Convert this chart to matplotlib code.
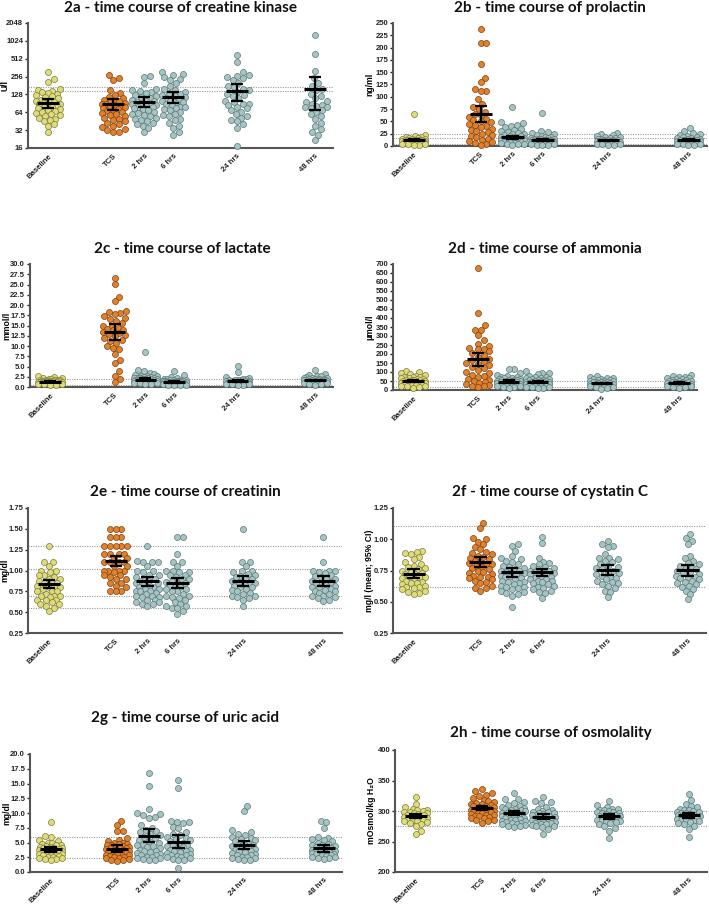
"""Time course panels 2a-2h: scatter (swarm) with mean and 95% CI per sampling time."""

import matplotlib

matplotlib.use("Agg")
import matplotlib.pyplot as plt
import numpy as np
from matplotlib.ticker import FixedLocator, FuncFormatter

plt.rcParams["font.family"] = ["Liberation Sans", "DejaVu Sans"]

GROUPS = ["Baseline", "TCS", "2 hrs", "6 hrs", "24 hrs", "48 hrs"]
GROUP_POS = [0, 2.17, 3.2, 4.17, 6.3, 8.9]

# 2a creatine kinase (U/l)
CK = [
    [300, 235, 205, 160, 150, 145, 140, 135, 130, 125, 120, 115, 110, 105, 100, 98, 95, 92, 90, 88,
     85, 82, 80, 78, 75, 72, 70, 68, 65, 62, 60, 58, 55, 52, 50, 48, 45, 40, 38, 30],
    [270, 245, 225, 150, 135, 125, 115, 110, 105, 100, 98, 95, 92, 90, 88, 85, 82, 80, 78, 75,
     72, 70, 68, 65, 62, 60, 58, 55, 52, 50, 48, 45, 42, 40, 38, 36, 34, 32, 30, 30],
    [260, 250, 200, 160, 150, 145, 140, 135, 125, 120, 115, 110, 105, 100, 98, 95, 92, 90, 88, 85,
     82, 80, 78, 75, 72, 70, 65, 62, 60, 58, 55, 52, 50, 48, 45, 42, 40, 38, 35, 30],
    [300, 285, 270, 250, 235, 220, 200, 175, 160, 150, 140, 135, 130, 125, 120, 115, 110, 105, 100, 98,
     95, 92, 90, 85, 80, 78, 75, 72, 70, 65, 60, 58, 55, 50, 48, 42, 38, 35, 30, 26],
    [600, 450, 300, 270, 260, 250, 240, 220, 200, 180, 170, 160, 150, 140, 130, 125, 120, 110, 100, 95,
     90, 88, 85, 80, 75, 70, 65, 60, 55, 52, 48, 45, 40, 35, 17],
    [1300, 620, 320, 240, 200, 180, 160, 150, 130, 120, 110, 100, 95, 90, 85, 82, 80, 78, 75, 70,
     65, 60, 55, 50, 42, 37, 33, 30, 27, 22],
]
CK_MEAN = [93, 88, 96, 117, 146, 161]
CK_LO = [75, 70, 78, 92, 101, 69]
CK_HI = [107, 106, 115, 143, 193, 254]
CK_REF = [171, 145]

# 2b prolactin (ng/ml)
PRL = [
    [65, 23, 20, 19, 18, 17, 16, 15, 14, 14, 13, 13, 12, 12, 12, 11, 11, 11, 10, 10,
     10, 10, 9, 9, 9, 9, 8, 8, 8, 8, 7, 7, 7, 6, 6, 5, 5, 4, 3, 2],
    [238, 210, 210, 167, 138, 130, 116, 112, 111, 95, 86, 80, 75, 70, 65, 62, 58, 55, 52, 50,
     48, 45, 42, 40, 38, 35, 32, 30, 28, 25, 22, 20, 18, 15, 12, 10, 8, 6, 5, 3],
    [80, 48, 47, 42, 40, 38, 35, 32, 30, 28, 26, 25, 24, 22, 21, 20, 19, 18, 17, 16,
     16, 15, 15, 14, 14, 13, 12, 12, 11, 10, 10, 9, 8, 8, 7, 6, 5, 5, 4, 3],
    [67, 30, 28, 26, 24, 22, 20, 19, 18, 17, 16, 15, 15, 14, 14, 13, 13, 12, 12, 12,
     11, 11, 10, 10, 10, 9, 9, 8, 8, 7, 7, 6, 6, 5, 5, 4, 4, 3, 3, 2],
    [26, 25, 22, 20, 19, 18, 17, 16, 15, 14, 13, 13, 12, 12, 11, 11, 10, 10, 10, 9,
     9, 8, 8, 7, 7, 6, 6, 5, 5, 4, 3, 2],
    [37, 30, 26, 24, 22, 20, 19, 18, 17, 16, 15, 14, 13, 13, 12, 12, 11, 11, 10, 10,
     9, 9, 8, 8, 7, 7, 6, 5, 5, 4, 3, 2],
]
PRL_MEAN = [12, 65, 18, 13, 11.5, 12.5]
PRL_LO = [10, 49, 15, 11, 10, 10.5]
PRL_HI = [14, 81, 21, 15, 13, 14.5]
PRL_REF = [25, 17, 3.5]

# 2c lactate (mmol/l)
LAC = [
    [2.6, 2.5, 2.3, 2.2, 2.0, 1.9, 1.8, 1.7, 1.7, 1.6, 1.6, 1.5, 1.5, 1.5, 1.4, 1.4, 1.4, 1.3, 1.3, 1.3,
     1.2, 1.2, 1.2, 1.1, 1.1, 1.1, 1.0, 1.0, 1.0, 0.9, 0.9, 0.9, 0.8, 0.8, 0.7, 0.7, 0.6, 0.5],
    [26.6, 25.2, 22.0, 20.9, 18.5, 18.3, 18.1, 17.8, 17.2, 16.8, 16.5, 16.0, 15.5, 15.0, 14.8, 14.5,
     14.2, 14.0, 13.8, 13.5, 13.2, 13.0, 12.8, 12.5, 12.0, 11.5, 11.3, 10.8, 10.0, 9.5, 9.2, 8.0,
     6.6, 5.9, 3.8, 2.8, 2.0, 1.1],
    [8.5, 4.2, 3.9, 3.5, 3.2, 3.0, 2.8, 2.7, 2.6, 2.5, 2.4, 2.3, 2.2, 2.2, 2.1, 2.1, 2.0, 2.0, 1.9, 1.9,
     1.8, 1.8, 1.7, 1.7, 1.6, 1.6, 1.5, 1.5, 1.4, 1.4, 1.3, 1.3, 1.2, 1.2, 1.1, 1.0, 1.0, 0.9, 0.8, 0.7],
    [3.9, 3.0, 2.5, 2.2, 2.0, 1.9, 1.8, 1.7, 1.6, 1.6, 1.5, 1.5, 1.4, 1.4, 1.4, 1.3, 1.3, 1.3, 1.2, 1.2,
     1.2, 1.1, 1.1, 1.1, 1.0, 1.0, 1.0, 0.9, 0.9, 0.9, 0.8, 0.8, 0.7, 0.7, 0.6, 0.6, 0.5, 0.5],
    [5.2, 3.6, 2.5, 2.2, 2.0, 1.9, 1.8, 1.7, 1.6, 1.6, 1.5, 1.5, 1.4, 1.4, 1.3, 1.3, 1.3, 1.2, 1.2, 1.2,
     1.1, 1.1, 1.0, 1.0, 1.0, 0.9, 0.9, 0.8, 0.8, 0.7, 0.6, 0.5],
    [4.2, 3.1, 2.9, 2.8, 2.6, 2.5, 2.3, 2.2, 2.1, 2.0, 2.0, 1.9, 1.9, 1.8, 1.8, 1.7, 1.7, 1.6, 1.6, 1.5,
     1.5, 1.4, 1.4, 1.3, 1.3, 1.2, 1.1, 1.0, 0.9, 0.8, 0.7, 0.6],
]
LAC_MEAN = [1.25, 13.5, 1.8, 1.25, 1.5, 1.6]
LAC_LO = [1.1, 11.4, 1.6, 1.05, 1.25, 1.4]
LAC_HI = [1.4, 15.4, 2.1, 1.45, 1.75, 1.8]
LAC_REF = [1.9, 0.5]

# 2d ammonia (umol/l)
NH3 = [
    [105, 100, 92, 88, 82, 78, 75, 72, 70, 68, 65, 62, 60, 58, 56, 55, 53, 52, 50, 48,
     47, 45, 44, 42, 40, 38, 37, 35, 33, 32, 30, 28, 26, 24, 22, 20, 15, 10],
    [675, 430, 360, 335, 335, 305, 278, 258, 245, 235, 230, 225, 215, 205, 195, 185, 175, 165, 160, 150,
     145, 140, 130, 120, 110, 100, 95, 85, 80, 70, 60, 55, 50, 45, 40, 35, 30, 25, 20, 15],
    [115, 115, 95, 85, 80, 75, 70, 68, 65, 62, 60, 58, 56, 55, 53, 52, 50, 50, 48, 47,
     46, 45, 44, 42, 40, 40, 38, 36, 35, 33, 32, 30, 28, 26, 24, 22, 20, 18, 15, 10],
    [105, 95, 92, 88, 80, 75, 70, 68, 65, 62, 60, 58, 55, 53, 52, 50, 48, 47, 46, 45,
     44, 42, 40, 40, 38, 36, 35, 34, 32, 30, 28, 26, 24, 22, 20, 18, 16, 14, 12, 10],
    [80, 72, 68, 65, 62, 60, 58, 55, 52, 50, 48, 46, 45, 44, 42, 40, 39, 38, 36, 35,
     34, 32, 30, 28, 27, 25, 23, 20, 18, 15, 12, 8],
    [82, 80, 75, 70, 68, 65, 62, 60, 58, 55, 52, 50, 48, 46, 45, 44, 42, 40, 40, 38,
     36, 35, 34, 32, 30, 28, 26, 24, 22, 18, 15, 10],
]
NH3_MEAN = [48, 170, 46, 43, 37, 39]
NH3_LO = [42, 135, 40, 37, 33, 35]
NH3_HI = [55, 205, 53, 49, 41, 44]
NH3_REF = [52, 17]

# 2e creatinin (mg/dl)
CREA = [
    [1.30, 1.10, 1.10, 1.05, 1.00, 1.00, 0.98, 0.95, 0.95, 0.92, 0.90, 0.90, 0.88, 0.85, 0.85, 0.85,
     0.82, 0.80, 0.80, 0.80, 0.78, 0.75, 0.75, 0.75, 0.72, 0.70, 0.70, 0.70, 0.68, 0.65, 0.65, 0.65,
     0.62, 0.60, 0.60, 0.58, 0.55, 0.52],
    [1.50, 1.50, 1.50, 1.40, 1.40, 1.40, 1.30, 1.30, 1.30, 1.30, 1.30, 1.20, 1.20, 1.20, 1.20, 1.15,
     1.15, 1.10, 1.10, 1.10, 1.10, 1.05, 1.05, 1.00, 1.00, 1.00, 1.00, 0.98, 0.95, 0.95, 0.92, 0.90,
     0.90, 0.85, 0.85, 0.82, 0.80, 0.75, 0.75, 0.75],
    [1.30, 1.12, 1.10, 1.10, 1.10, 1.05, 1.00, 1.00, 0.98, 0.95, 0.95, 0.92, 0.90, 0.90, 0.88, 0.87,
     0.85, 0.85, 0.83, 0.80, 0.80, 0.80, 0.78, 0.78, 0.76, 0.75, 0.75, 0.73, 0.72, 0.70, 0.70, 0.68,
     0.68, 0.65, 0.65, 0.62, 0.62, 0.60, 0.60, 0.58],
    [1.40, 1.40, 1.20, 1.10, 1.10, 1.05, 1.00, 1.00, 0.98, 0.98, 0.95, 0.95, 0.92, 0.90, 0.90, 0.88,
     0.86, 0.85, 0.85, 0.82, 0.80, 0.80, 0.78, 0.78, 0.75, 0.75, 0.72, 0.70, 0.70, 0.68, 0.67, 0.65,
     0.62, 0.60, 0.58, 0.58, 0.55, 0.55, 0.52, 0.48],
    [1.50, 1.10, 1.10, 1.05, 1.00, 1.00, 0.98, 0.96, 0.95, 0.93, 0.92, 0.90, 0.90, 0.88, 0.86, 0.85,
     0.85, 0.83, 0.82, 0.80, 0.80, 0.78, 0.77, 0.75, 0.73, 0.72, 0.70, 0.70, 0.68, 0.67, 0.65, 0.58],
    [1.40, 1.10, 1.00, 1.00, 1.00, 0.98, 0.97, 0.95, 0.93, 0.92, 0.90, 0.90, 0.88, 0.86, 0.85, 0.85,
     0.83, 0.82, 0.80, 0.80, 0.78, 0.77, 0.75, 0.75, 0.73, 0.72, 0.70, 0.70, 0.68, 0.67, 0.65, 0.63],
]
CREA_MEAN = [0.84, 1.12, 0.87, 0.85, 0.87, 0.87]
CREA_LO = [0.79, 1.05, 0.81, 0.79, 0.81, 0.81]
CREA_HI = [0.89, 1.17, 0.92, 0.91, 0.93, 0.93]
CREA_REF = [1.30, 1.02, 0.70, 0.55]

# 2f cystatin C (mg/l)
CYS = [
    [0.91, 0.90, 0.89, 0.88, 0.86, 0.84, 0.82, 0.80, 0.79, 0.78, 0.77, 0.76, 0.75, 0.74, 0.73, 0.72,
     0.72, 0.71, 0.70, 0.70, 0.69, 0.68, 0.67, 0.66, 0.65, 0.65, 0.64, 0.63, 0.62, 0.62, 0.61, 0.60,
     0.59, 0.58, 0.57, 0.56],
    [1.13, 1.09, 1.01, 1.00, 0.98, 0.96, 0.94, 0.92, 0.90, 0.89, 0.88, 0.87, 0.86, 0.85, 0.84, 0.83,
     0.82, 0.81, 0.80, 0.80, 0.79, 0.78, 0.77, 0.76, 0.75, 0.74, 0.73, 0.72, 0.71, 0.70, 0.70, 0.69,
     0.68, 0.67, 0.66, 0.65, 0.63, 0.61, 0.61, 0.59],
    [0.96, 0.95, 0.91, 0.87, 0.85, 0.84, 0.83, 0.82, 0.80, 0.79, 0.78, 0.77, 0.76, 0.75, 0.75, 0.74,
     0.73, 0.73, 0.72, 0.71, 0.70, 0.70, 0.69, 0.68, 0.67, 0.66, 0.66, 0.65, 0.64, 0.63, 0.62, 0.62,
     0.61, 0.60, 0.59, 0.58, 0.57, 0.56, 0.55, 0.46],
    [1.02, 0.97, 0.85, 0.82, 0.81, 0.80, 0.79, 0.78, 0.77, 0.76, 0.75, 0.75, 0.74, 0.74, 0.73, 0.72,
     0.72, 0.71, 0.70, 0.70, 0.69, 0.68, 0.68, 0.67, 0.67, 0.66, 0.65, 0.64, 0.63, 0.62, 0.61, 0.60,
     0.59, 0.58, 0.57, 0.53],
    [0.99, 0.96, 0.95, 0.94, 0.88, 0.85, 0.85, 0.84, 0.83, 0.82, 0.80, 0.79, 0.78, 0.77, 0.76, 0.75,
     0.74, 0.73, 0.72, 0.71, 0.70, 0.69, 0.68, 0.67, 0.66, 0.65, 0.64, 0.63, 0.61, 0.59, 0.58, 0.54],
    [1.04, 1.01, 0.99, 0.96, 0.87, 0.85, 0.83, 0.81, 0.80, 0.79, 0.78, 0.77, 0.76, 0.75, 0.74, 0.73,
     0.72, 0.71, 0.70, 0.70, 0.69, 0.68, 0.67, 0.66, 0.65, 0.64, 0.63, 0.62, 0.60, 0.59, 0.56, 0.52],
]
CYS_MEAN = [0.725, 0.82, 0.735, 0.735, 0.757, 0.754]
CYS_LO = [0.693, 0.778, 0.698, 0.703, 0.717, 0.706]
CYS_HI = [0.76, 0.858, 0.773, 0.765, 0.797, 0.797]
CYS_REF = [1.11, 0.62]

# 2g uric acid (mg/dl)
URIC = [
    [8.4, 6.1, 6.0, 5.5, 5.2, 5.0, 4.9, 4.8, 4.6, 4.5, 4.4, 4.3, 4.2, 4.1, 4.0, 4.0, 3.9, 3.8, 3.7, 3.6,
     3.5, 3.5, 3.4, 3.3, 3.2, 3.1, 3.0, 3.0, 2.9, 2.8, 2.7, 2.6, 2.5, 2.4, 2.3, 2.2, 2.2, 2.1],
    [8.7, 7.9, 6.9, 6.9, 5.8, 5.5, 5.2, 5.0, 4.9, 4.8, 4.7, 4.6, 4.5, 4.4, 4.3, 4.2, 4.1, 4.0, 4.0, 3.9,
     3.8, 3.7, 3.6, 3.5, 3.4, 3.3, 3.2, 3.1, 3.0, 2.9, 2.8, 2.7, 2.6, 2.5, 2.4, 2.3, 2.2, 2.1, 2.0, 1.8],
    [16.7, 14.6, 10.6, 10.0, 9.8, 9.6, 9.4, 9.2, 8.0, 7.5, 7.2, 7.0, 6.8, 6.5, 6.2, 6.0, 5.8, 5.5, 5.3,
     5.0, 4.8, 4.6, 4.4, 4.2, 4.0, 3.8, 3.6, 3.5, 3.4, 3.2, 3.0, 2.9, 2.8, 2.6, 2.5, 2.4, 2.3, 2.2, 2.1, 2.0],
    [15.6, 14.3, 8.6, 8.5, 8.4, 8.3, 7.6, 7.5, 6.8, 6.5, 6.3, 6.0, 5.8, 5.6, 5.4, 5.2, 5.0, 4.8, 4.6,
     4.5, 4.4, 4.2, 4.0, 3.8, 3.7, 3.6, 3.5, 3.4, 3.2, 3.0, 2.9, 2.8, 2.7, 2.6, 2.5, 2.4, 2.2, 2.1, 2.0, 0.7],
    [11.2, 10.3, 7.1, 6.8, 6.5, 6.3, 6.0, 5.8, 5.6, 5.4, 5.2, 5.0, 4.8, 4.6, 4.5, 4.4, 4.2, 4.0, 3.9,
     3.8, 3.6, 3.5, 3.4, 3.2, 3.0, 2.9, 2.8, 2.6, 2.5, 2.4, 2.3, 2.2, 2.1, 2.0],
    [8.7, 8.4, 7.5, 6.0, 5.8, 5.6, 5.4, 5.2, 5.0, 4.8, 4.6, 4.5, 4.4, 4.2, 4.0, 3.9, 3.8, 3.7, 3.6,
     3.5, 3.4, 3.3, 3.2, 3.1, 3.0, 3.0, 2.9, 2.8, 2.7, 2.6, 2.5, 2.4, 2.3, 2.2],
]
URIC_MEAN = [3.84, 3.96, 6.18, 5.13, 4.57, 4.01]
URIC_LO = [3.34, 3.34, 5.07, 4.12, 3.9, 3.45]
URIC_HI = [4.29, 4.57, 7.3, 6.24, 5.24, 4.57]
URIC_REF = [5.9, 2.45]

# 2h osmolality (mOsmol/kg H2O)
OSM = [
    [323, 312, 307, 303, 302, 301, 300, 299, 298, 297, 296, 295, 294, 293, 292, 291, 290, 289, 288, 287,
     286, 285, 284, 283, 282, 280, 278, 275, 267, 263],
    [336, 332, 329, 327, 325, 322, 318, 316, 314, 313, 312, 311, 310, 309, 308, 307, 306, 305, 304, 303,
     302, 301, 300, 300, 299, 298, 297, 296, 295, 294, 293, 292, 291, 290, 289, 288, 286, 285, 283, 280],
    [329, 320, 319, 315, 313, 310, 308, 306, 305, 304, 303, 302, 301, 300, 299, 298, 297, 296, 295, 294,
     293, 292, 291, 290, 289, 288, 287, 286, 285, 284, 283, 282, 281, 280, 279, 278, 277, 276, 275, 274],
    [323, 317, 314, 313, 307, 304, 302, 300, 299, 298, 297, 296, 295, 294, 293, 292, 291, 290, 289, 288,
     287, 286, 285, 284, 283, 282, 281, 280, 279, 278, 277, 276, 275, 273, 270, 262],
    [317, 310, 306, 304, 303, 302, 301, 300, 299, 298, 297, 296, 295, 294, 293, 292, 291, 290, 289, 288,
     287, 286, 285, 284, 283, 282, 280, 278, 276, 272, 268, 255],
    [328, 318, 312, 308, 306, 304, 302, 301, 300, 299, 298, 297, 296, 295, 294, 293, 292, 291, 290, 289,
     288, 287, 286, 285, 284, 283, 282, 280, 278, 275, 270, 258],
]
OSM_MEAN = [291.9, 304.8, 296.8, 290.3, 291.4, 293]
OSM_LO = [288, 301.6, 293, 287, 287.6, 289.2]
OSM_HI = [295.7, 308.6, 300.5, 294.6, 295, 297.3]
OSM_REF = [300, 275]

FILL = ["#dedc7a", "#e0812e", "#a6c4c4", "#a6c4c4", "#a6c4c4", "#a6c4c4"]
EDGE = ["#7d7b3c", "#7a4212", "#5b7777", "#5b7777", "#5b7777", "#5b7777"]

W, H = 709, 906


def swarm_x(ax, xpos, vals, d=5.8, half=12.5):
    """Spread points sideways (max +-half px); overlap is allowed once the band is full."""
    pts = ax.transData.transform(np.column_stack([np.full(len(vals), xpos), vals]))
    ypix = pts[:, 1]
    offs = np.zeros(len(vals))
    px, py = [], []
    step = d * 0.25
    cands = [0.0]
    k = 1
    while k * step <= half:
        cands += [k * step, -k * step]
        k += 1
    for i in np.argsort(ypix):
        best, best_gap = 0.0, -1.0
        for c in cands:
            gap = np.min((c - np.array(px)) ** 2 + (ypix[i] - np.array(py)) ** 2) if px else np.inf
            if gap >= d * d * 0.97:
                best = c
                break
            if gap > best_gap:
                best_gap, best = gap, c
        offs[i] = best
        px.append(best)
        py.append(ypix[i])
    pts[:, 0] += offs
    return ax.transData.inverted().transform(pts)[:, 0]


def panel(fig, rect, title, title_xy, ylabel, data, mean, lo, hi, refs, ylim, yticks, fmt, log=False):
    left, top, right, bottom = rect
    ax = fig.add_axes([left / W, 1 - bottom / H, (right - left) / W, (bottom - top) / H])
    if log:
        ax.set_yscale("log", base=2)
    ax.set_xlim(-0.67, 9.5)
    ax.set_ylim(*ylim)
    for r in refs:
        ax.axhline(r, color="#9a9a9a", lw=0.8, ls=(0, (1, 1.2)), zorder=1)
    for g, vals in enumerate(data):
        xs = swarm_x(ax, GROUP_POS[g], vals)
        ax.scatter(xs, vals, s=19, c=FILL[g], edgecolors=EDGE[g], linewidths=0.5, zorder=3, clip_on=False)
    pos = np.array(GROUP_POS)
    ax.hlines(mean, pos - 0.36, pos + 0.36, color="black", lw=2.2, zorder=5)
    ax.hlines(lo, pos - 0.2, pos + 0.2, color="black", lw=1.6, zorder=5)
    ax.hlines(hi, pos - 0.2, pos + 0.2, color="black", lw=1.6, zorder=5)
    ax.vlines(pos, lo, hi, color="black", lw=1.6, zorder=5)

    ax.yaxis.set_major_locator(FixedLocator(yticks))
    ax.yaxis.set_minor_locator(FixedLocator([]))
    ax.yaxis.set_major_formatter(FuncFormatter(lambda v, p: fmt.format(v)))
    ax.set_xticks(GROUP_POS)
    ax.set_xticklabels(GROUPS, rotation=45, ha="right", va="top", rotation_mode="anchor",
                       fontsize=5.6, fontweight="bold", color="#222222")
    ax.tick_params(axis="x", length=0, pad=3.5)
    ax.tick_params(axis="y", length=2.5, width=1, pad=1, labelsize=5.5, colors="#222222", direction="out")
    for lab in ax.get_yticklabels():
        lab.set_fontweight("bold")
    for side in ("top", "right"):
        ax.spines[side].set_visible(False)
    for side in ("left", "bottom"):
        ax.spines[side].set_color("#555555")
        ax.spines[side].set_linewidth(1.5)
    ax.set_ylabel(ylabel, fontsize=6.2, fontweight="bold", family=["Liberation Sans", "DejaVu Sans"])
    ax.yaxis.set_label_coords(-19 / (right - left), 0.5)
    fig.text(title_xy[0] / W, 1 - title_xy[1] / H, title, ha="center", va="center",
             fontsize=11, fontweight="bold", family="Lato", color="#111111")
    return ax


def main() -> None:
    fig = plt.figure(figsize=(W / 100, H / 100), dpi=100)

    panel(fig, (28, 23, 333, 148), "2a - time course of creatine kinase", (180, 8), "U/l",
          CK, CK_MEAN, CK_LO, CK_HI, CK_REF, (16, 2048), [16, 32, 64, 128, 256, 512, 1024, 2048],
          "{:.0f}", log=True)
    panel(fig, (393, 23, 707, 146), "2b - time course of prolactin", (550, 8), "ng/ml",
          PRL, PRL_MEAN, PRL_LO, PRL_HI, PRL_REF, (0, 250), np.arange(0, 251, 25), "{:.0f}")
    panel(fig, (30, 264, 333, 387), "2c - time course of lactate", (182, 249), "mmol/l",
          LAC, LAC_MEAN, LAC_LO, LAC_HI, LAC_REF, (0, 30), np.arange(0, 30.1, 2.5), "{:.1f}")
    panel(fig, (393, 264, 697, 390), "2d - time course of ammonia", (545, 249), "µmol/l",
          NH3, NH3_MEAN, NH3_LO, NH3_HI, NH3_REF, (0, 700), np.arange(0, 701, 50), "{:.0f}")
    panel(fig, (28, 508, 342, 633), "2e - time course of creatinin", (185, 492), "mg/dl",
          CREA, CREA_MEAN, CREA_LO, CREA_HI, CREA_REF, (0.25, 1.75), np.arange(0.25, 1.76, 0.25), "{:.2f}")
    panel(fig, (393, 508, 706, 633), "2f - time course of cystatin C", (550, 492), "mg/l (mean; 95% CI)",
          CYS, CYS_MEAN, CYS_LO, CYS_HI, CYS_REF, (0.25, 1.25), np.arange(0.25, 1.26, 0.25), "{:.2f}")
    panel(fig, (30, 754, 342, 872), "2g - time course of uric acid", (185, 718), "mg/dl",
          URIC, URIC_MEAN, URIC_LO, URIC_HI, URIC_REF, (0, 20), np.arange(0, 20.1, 2.5), "{:.1f}")
    panel(fig, (395, 750, 707, 872), "2h - time course of osmolality", (551, 733), "mOsmol/kg H₂O",
          OSM, OSM_MEAN, OSM_LO, OSM_HI, OSM_REF, (200, 400), np.arange(200, 401, 50), "{:.0f}")

    fig.savefig("out.png", dpi=100, facecolor="white")
    plt.close(fig)


if __name__ == "__main__":
    main()
